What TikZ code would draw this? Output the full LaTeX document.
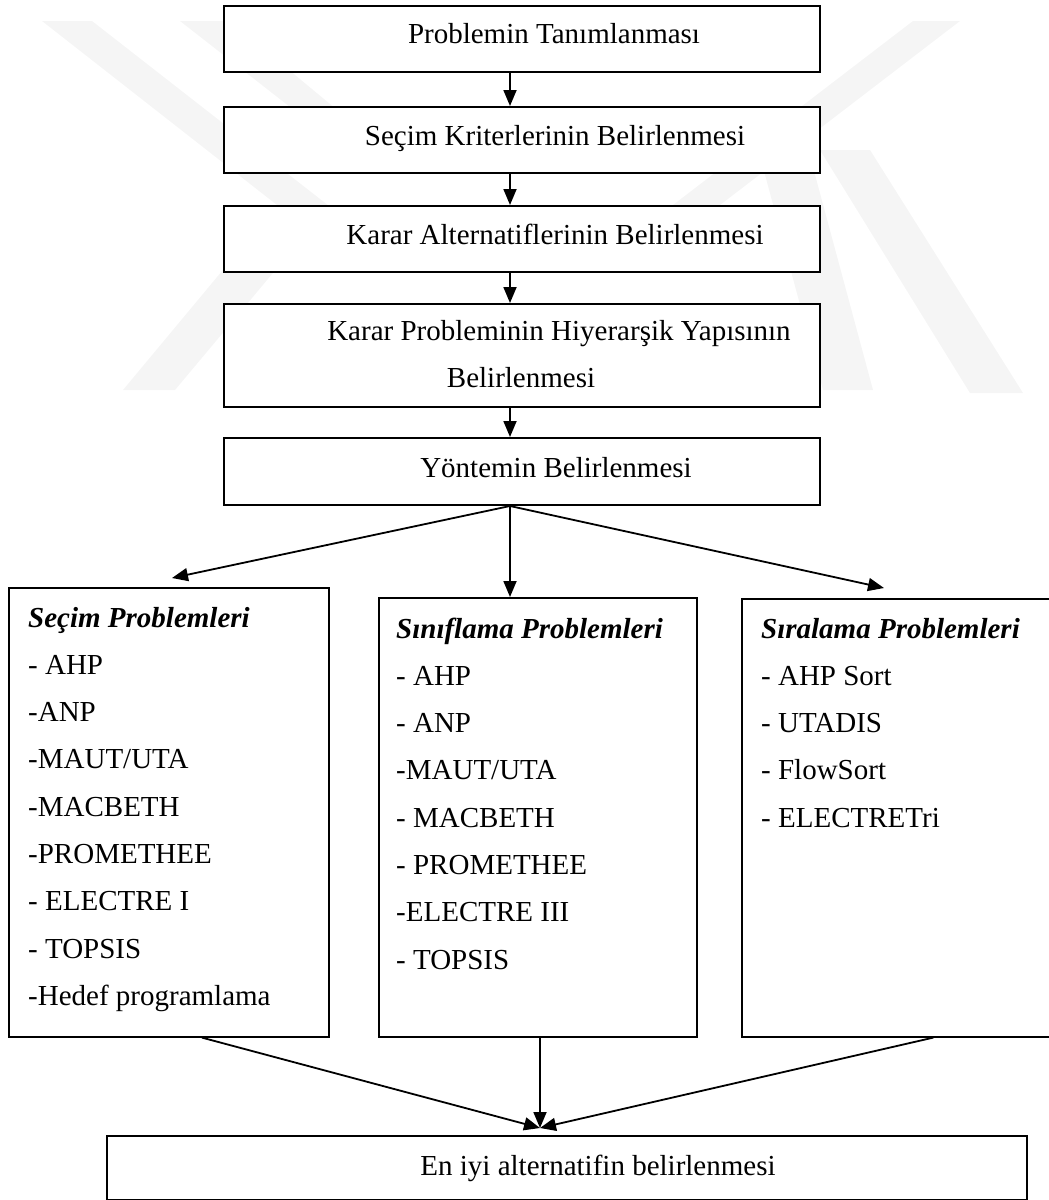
\documentclass[tikz,border=0pt]{standalone}
\usepackage{fontspec}
\setmainfont{Liberation Serif}
\usetikzlibrary{arrows.meta,calc}

\begin{document}
\begin{tikzpicture}[x=1pt,y=-1pt,
  font=\fontsize{29}{34}\selectfont,
  flowbox/.style={draw, line width=2pt, fill=white, inner sep=0pt, anchor=north west},
  groupbox/.style={draw, line width=1.6pt, fill=white, inner sep=0pt, anchor=north west},
  txt/.style={anchor=base, inner sep=0pt},
  item/.style={anchor=base west, inner sep=0pt},
  head/.style={item, font=\fontsize{29}{34}\selectfont\bfseries\itshape},
  arr/.style={line width=1.8pt, -{Triangle[width=13pt,length=16pt]}},
  wmark/.style={fill=black!4}
]
\useasboundingbox (0,0) rectangle (1049,1200);
\clip (0,0) rectangle (1049,1200);

% faint background emblem
\fill[wmark] (42,21) -- (92,21) -- (329,206) -- (175,390) -- (123,390) -- (277,205) -- cycle;
\fill[wmark] (180,21) -- (230,21) -- (383,148) -- (363,164) -- cycle;
\fill[wmark] (913,21) -- (960,21) -- (720,205) -- (673,205) -- cycle;
\fill[wmark] (757,145) -- (807,145) -- (873,390) -- (823,390) -- cycle;
\fill[wmark] (820,150) -- (870,150) -- (1023,393) -- (970,393) -- cycle;

% column of the vertical connectors
\coordinate (ax) at (510,0);

% main flow
\node[flowbox, minimum width=596pt, minimum height=66pt] (b1) at (223,5) {};
\node[txt] (t1) at (554,43) {Problemin Tanımlanması};

\node[flowbox, minimum width=596pt, minimum height=66pt] (b2) at (223,106) {};
\node[txt] (t2) at (555,145) {Seçim Kriterlerinin Belirlenmesi};

\node[flowbox, minimum width=596pt, minimum height=66pt] (b3) at (223,205) {};
\node[txt] (t3) at (555,244) {Karar Alternatiflerinin Belirlenmesi};

\node[flowbox, minimum width=596pt, minimum height=103pt] (b4) at (223,303) {};
\node[txt] (t4a) at (559,340) {Karar Probleminin Hiyerarşik Yapısının};
\node[txt] (t4b) at (521,387) {Belirlenmesi};

\node[flowbox, minimum width=596pt, minimum height=67pt] (b5) at (223,437) {};
\node[txt] (t5) at (556,477) {Yöntemin Belirlenmesi};

\draw[arr] (b1.south -| ax) -- (b2.north -| ax);
\draw[arr] (b2.south -| ax) -- (b3.north -| ax);
\draw[arr] (b3.south -| ax) -- (b4.north -| ax);
\draw[arr] (b4.south -| ax) -- (b5.north -| ax);

% problem groups
\node[groupbox, minimum width=320pt, minimum height=449pt] (gl) at (8,587) {};
\node[groupbox, minimum width=318pt, minimum height=439pt] (gm) at (378,597) {};
\node[groupbox, minimum width=330pt, minimum height=438pt] (gr) at (741,598) {};

\node[head] (hl) at (28,627) {Seçim Problemleri};
\foreach \t [count=\k] in {- AHP, -ANP, -MAUT/UTA, -MACBETH, -PROMETHEE, - ELECTRE I, - TOPSIS, -Hedef programlama}
  \node[item] (l\k) at (28,{627+47.3*\k}) {\t};

\node[head] (hm) at (396,638) {Sınıflama Problemleri};
\foreach \t [count=\k] in {- AHP, - ANP, -MAUT/UTA, - MACBETH, - PROMETHEE, -ELECTRE III, - TOPSIS}
  \node[item] (m\k) at (396,{638+47.3*\k}) {\t};

\node[head] (hr) at (761,638) {Sıralama Problemleri};
\foreach \t [count=\k] in {- AHP Sort, - UTADIS, - FlowSort, - ELECTRETri}
  \node[item] (r\k) at (761,{638+47.3*\k}) {\t};

% branching from the method box
\coordinate (la) at (172,578);
\coordinate (ra) at (884,588);
\draw[arr] (b5.south -| ax) -- (la);
\draw[arr] (b5.south -| ax) -- (gm.north -| ax);
\draw[arr] (b5.south -| ax) -- (ra);

% result
\node[flowbox, minimum width=920pt, minimum height=64pt] (res) at (106,1135) {};
\node[txt] (tres) at (598,1175) {En iyi alternatifin belirlenmesi};

\coordinate (tip) at (540,1128);
\draw[arr] ($(gl.south west)!0.603!(gl.south east)$) -- (tip);
\draw[arr] (gm.south -| tip) -- (tip);
\draw[arr] ($(gr.south west)!0.58!(gr.south east)$) -- (tip);
\end{tikzpicture}
\end{document}
